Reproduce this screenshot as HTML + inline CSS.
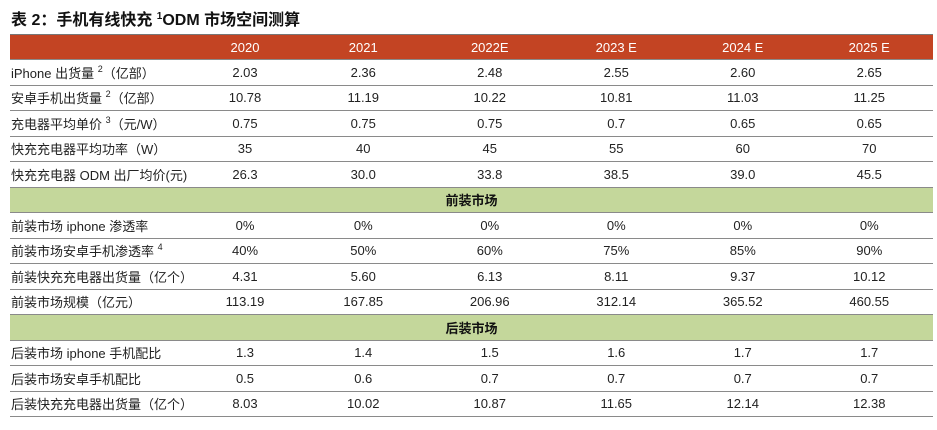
<!DOCTYPE html>
<html><head><meta charset="utf-8"><style>
*{margin:0;padding:0;box-sizing:border-box}
body{width:937px;height:430px;background:#fff;font-family:"Liberation Sans","Noto Sans CJK SC",sans-serif;color:#222;position:relative;overflow:hidden}
.title{position:absolute;left:11px;top:6px;font-size:16px;font-weight:bold;color:#111;font-family:"Liberation Sans","Noto Sans CJK SC",sans-serif}
.title sup{font-size:10px;font-weight:bold}
.tbl{position:absolute;left:10px;top:34px;width:923px}
.r{display:flex;height:25.5px;border-bottom:1px solid #8a8a8a;align-items:center;font-size:13px}
.r div{text-align:center;width:126.5px}
.r div.l{width:180px;text-align:left;padding-left:1px}
.r div.c1{width:110px}
.h{background:#c34423;color:#fff;height:26px;border-top:1.5px solid #777}
.g{background:#c4d79b;justify-content:center;font-weight:bold;color:#111}
sup{font-size:9px;vertical-align:6px;line-height:0}
</style></head><body>
<div class="title">表 2：手机有线快充 <sup>1</sup>ODM 市场空间测算</div>
<div class="tbl">
<div class="r h"><div class="l"></div><div class="c1">2020</div><div>2021</div><div>2022E</div><div>2023 E</div><div>2024 E</div><div>2025 E</div></div>
<div class="r"><div class="l">iPhone 出货量 <sup>2</sup>（亿部）</div><div class="c1">2.03</div><div>2.36</div><div>2.48</div><div>2.55</div><div>2.60</div><div>2.65</div></div>
<div class="r"><div class="l">安卓手机出货量 <sup>2</sup>（亿部）</div><div class="c1">10.78</div><div>11.19</div><div>10.22</div><div>10.81</div><div>11.03</div><div>11.25</div></div>
<div class="r"><div class="l">充电器平均单价 <sup>3</sup>（元/W）</div><div class="c1">0.75</div><div>0.75</div><div>0.75</div><div>0.7</div><div>0.65</div><div>0.65</div></div>
<div class="r"><div class="l">快充充电器平均功率（W）</div><div class="c1">35</div><div>40</div><div>45</div><div>55</div><div>60</div><div>70</div></div>
<div class="r"><div class="l">快充充电器 ODM 出厂均价(元)</div><div class="c1">26.3</div><div>30.0</div><div>33.8</div><div>38.5</div><div>39.0</div><div>45.5</div></div>
<div class="r g">前装市场</div>
<div class="r"><div class="l">前装市场 iphone 渗透率</div><div class="c1">0%</div><div>0%</div><div>0%</div><div>0%</div><div>0%</div><div>0%</div></div>
<div class="r"><div class="l">前装市场安卓手机渗透率 <sup>4</sup></div><div class="c1">40%</div><div>50%</div><div>60%</div><div>75%</div><div>85%</div><div>90%</div></div>
<div class="r"><div class="l">前装快充充电器出货量（亿个）</div><div class="c1">4.31</div><div>5.60</div><div>6.13</div><div>8.11</div><div>9.37</div><div>10.12</div></div>
<div class="r"><div class="l">前装市场规模（亿元）</div><div class="c1">113.19</div><div>167.85</div><div>206.96</div><div>312.14</div><div>365.52</div><div>460.55</div></div>
<div class="r g">后装市场</div>
<div class="r"><div class="l">后装市场 iphone 手机配比</div><div class="c1">1.3</div><div>1.4</div><div>1.5</div><div>1.6</div><div>1.7</div><div>1.7</div></div>
<div class="r"><div class="l">后装市场安卓手机配比</div><div class="c1">0.5</div><div>0.6</div><div>0.7</div><div>0.7</div><div>0.7</div><div>0.7</div></div>
<div class="r"><div class="l">后装快充充电器出货量（亿个）</div><div class="c1">8.03</div><div>10.02</div><div>10.87</div><div>11.65</div><div>12.14</div><div>12.38</div></div>
</div>
</body></html>
